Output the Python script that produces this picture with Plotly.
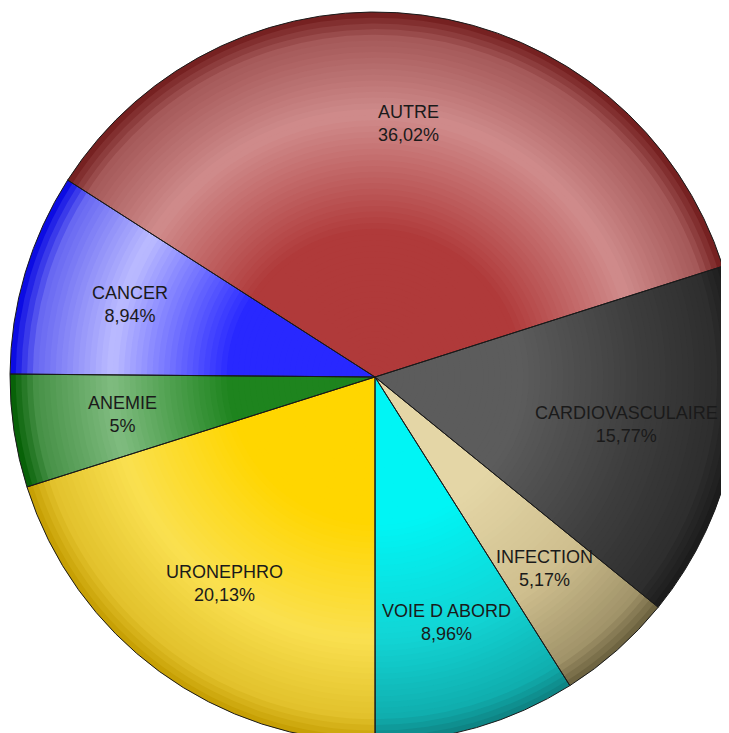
import math
import plotly.graph_objects as go

labels = ["AUTRE", "CARDIOVASCULAIRE", "INFECTION", "VOIE D ABORD", "URONEPHRO", "ANEMIE", "CANCER"]
values = [36.02, 15.77, 5.17, 8.96, 20.13, 5, 8.94]

# shading styles per slice: (center, highlight, rim) RGB
shade_center = [(176, 58, 58), (92, 92, 92), (228, 214, 166), (0, 245, 245), (255, 214, 0), (30, 132, 30), (40, 40, 255)]
shade_peak = [(208, 140, 140), (62, 62, 62), (206, 190, 142), (18, 212, 212), (250, 224, 80), (128, 188, 128), (188, 188, 255)]
shade_rim = [(112, 26, 26), (26, 26, 26), (104, 94, 60), (14, 128, 128), (196, 156, 0), (0, 92, 0), (0, 0, 225)]

ROTATION = -57.35  # start angle of first slice, degrees clockwise from 12 o'clock
N_LAYERS = 64


def mix(a, b, f):
    return tuple(a[i] + (b[i] - a[i]) * f for i in range(3))


def shade(k, t):
    c, p, r = shade_center[k], shade_peak[k], shade_rim[k]
    mid = mix(p, r, 0.45)
    if t <= 0.40:
        col = c
    elif t <= 0.72:
        col = mix(c, p, (t - 0.40) / 0.32)
    elif t <= 0.93:
        col = mix(p, mid, (t - 0.72) / 0.21)
    else:
        col = mix(mid, r, (t - 0.93) / 0.07)
    return "rgb(%d,%d,%d)" % tuple(int(round(v)) for v in col)


fig = go.Figure()
for i in range(N_LAYERS):
    t = 1 - i / N_LAYERS
    tc = t - 0.5 / N_LAYERS
    fig.add_trace(go.Pie(
        labels=labels, values=values, sort=False, direction="clockwise",
        rotation=ROTATION,
        domain=dict(x=[0.5 - t / 2, 0.5 + t / 2], y=[0.5 - t / 2, 0.5 + t / 2]),
        marker=dict(colors=[shade(k, tc) for k in range(len(labels))], line=dict(width=0)),
        textinfo="none", hoverinfo="skip", showlegend=False,
    ))

# outline layer on top
fig.add_trace(go.Pie(
    labels=labels, values=values, sort=False, direction="clockwise",
    rotation=ROTATION,
    marker=dict(colors=["rgba(0,0,0,0)"] * len(labels), line=dict(color="#1a1a1a", width=1)),
    textinfo="none", hoverinfo="label+percent", showlegend=False,
))

# labels placed at ~70% of the radius along each slice's mid-angle
total = sum(values)
cum = 0.0
for lab, v in zip(labels, values):
    mid = ROTATION + (cum + v / 2) / total * 360
    cum += v
    th = math.radians(mid)
    pct = ("%g" % v).replace(".", ",")
    fig.add_annotation(
        x=0.5 + 0.35 * math.sin(th), y=0.5 + 0.35 * math.cos(th),
        xref="paper", yref="paper", xanchor="center", yanchor="middle",
        showarrow=False,
        text=f"{lab}<br>{pct}%",
        font=dict(family="Liberation Sans, Arial", size=18, color="#1a1a1a"),
    )

fig.update_layout(
    width=750, height=752,
    margin=dict(l=2, r=18, t=4, b=18),
    paper_bgcolor="white", plot_bgcolor="white",
)
fig.write_html("out.html")
